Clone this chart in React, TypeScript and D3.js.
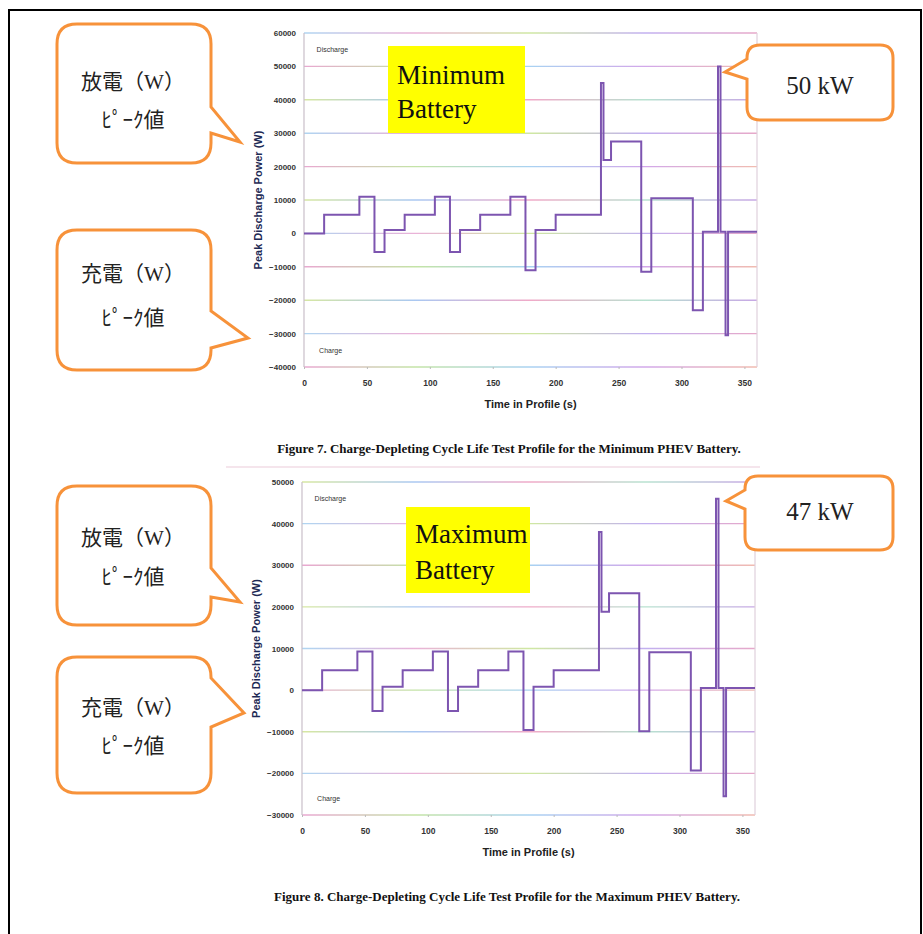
import { useRef, useEffect } from "react";
import * as d3 from "d3";

// step start times (s) of the charge-depleting profile, shared by both batteries
const stepTimes = [0, 16, 44, 56, 64, 80, 104, 116, 124, 140, 164, 176, 184, 200, 236, 238, 244, 268, 276, 309, 317, 329, 331, 335, 337, 360];
const minBatteryPower = [0, 5600, 11000, -5600, 1000, 5600, 11000, -5600, 1000, 5600, 11000, -11000, 1000, 5600, 45000, 22000, 27500, -11500, 10500, -23000, 500, 50000, 500, -30500, 500, 500];
const maxBatteryPower = [0, 4800, 9300, -5000, 800, 4800, 9300, -5000, 800, 4800, 9300, -9600, 800, 4800, 38000, 18800, 23300, -9900, 9100, -19300, 500, 46000, 500, -25500, 500, 500];

const minYTicks = [-40000, -30000, -20000, -10000, 0, 10000, 20000, 30000, 40000, 50000, 60000];
const maxYTicks = [-30000, -20000, -10000, 0, 10000, 20000, 30000, 40000, 50000];
const timeTicks = [0, 50, 100, 150, 200, 250, 300, 350];

const captions = [
  "Figure 7.  Charge-Depleting Cycle Life Test Profile for the Minimum PHEV Battery.",
  "Figure 8.  Charge-Depleting Cycle Life Test Profile for the Maximum PHEV Battery.",
];
const batteryLabels = [["Minimum", "Battery"], ["Maximum", "Battery"]];
const peakLabels = ["50 kW", "47 kW"];
const dischargeLines = ["放電（W）", "ﾋﾟｰｸ値"];
const chargeLines = ["充電（W）", "ﾋﾟｰｸ値"];

const ORANGE = "#f7923a";
const PURPLE = "#7d55b0";
const SANS = "'Liberation Sans', Arial, sans-serif";
const SERIF = "'Liberation Serif', 'Noto Sans CJK JP', serif";

type Sel = d3.Selection<SVGGElement, unknown, null, undefined>;

interface ChartCfg {
  left: number;
  top: number;
  width: number;
  height: number;
  yDomain: [number, number];
  yTicks: number[];
  values: number[];
  caption: string;
  captionY: number;
}

function drawProfile(root: Sel, cfg: ChartCfg) {
  const x = d3.scaleLinear().domain([0, 360]).range([cfg.left, cfg.left + cfg.width]);
  const y = d3.scaleLinear().domain(cfg.yDomain).range([cfg.top + cfg.height, cfg.top]);
  const g = root.append("g");

  // rainbow-ish scanned gridlines
  g.selectAll("line.grid")
    .data(cfg.yTicks)
    .join("line")
    .attr("class", "grid")
    .attr("x1", x(0))
    .attr("x2", x(360))
    .attr("y1", (d) => y(d))
    .attr("y2", (d) => y(d))
    .attr("stroke", (_d, i) => `url(#grid${i % 3})`)
    .attr("stroke-width", 1.4);

  g.append("line")
    .attr("x1", x(0)).attr("x2", x(0))
    .attr("y1", y(cfg.yDomain[1])).attr("y2", y(cfg.yDomain[0]))
    .attr("stroke", "#c9bfc9").attr("stroke-width", 1.2);
  g.append("line")
    .attr("x1", x(360)).attr("x2", x(360))
    .attr("y1", y(cfg.yDomain[1])).attr("y2", y(cfg.yDomain[0]))
    .attr("stroke", "#e0d0dc").attr("stroke-width", 1.2);

  const yAxis = g.append("g")
    .attr("transform", `translate(${x(0)},0)`)
    .call(d3.axisLeft(y).tickValues(cfg.yTicks).tickSize(0).tickPadding(8).tickFormat(d3.format("d")));
  yAxis.select(".domain").remove();
  yAxis.selectAll("text")
    .attr("font-family", SANS).attr("font-size", 8).attr("font-weight", "bold").attr("fill", "#333");

  const xAxis = g.append("g")
    .attr("transform", `translate(0,${y(cfg.yDomain[0])})`)
    .call(d3.axisBottom(x).tickValues(timeTicks).tickSize(2).tickPadding(11));
  xAxis.select(".domain").remove();
  xAxis.selectAll("line").attr("stroke", "#bbb");
  xAxis.selectAll("text")
    .attr("font-family", SANS).attr("font-size", 8.5).attr("font-weight", "bold").attr("fill", "#333");

  g.append("text")
    .attr("x", x(180)).attr("y", y(cfg.yDomain[0]) + 41)
    .attr("text-anchor", "middle")
    .attr("font-family", SANS).attr("font-size", 11).attr("font-weight", "bold").attr("fill", "#222")
    .text("Time in Profile (s)");

  const midY = cfg.top + cfg.height / 2;
  g.append("text")
    .attr("transform", `translate(${cfg.left - 42},${midY}) rotate(-90)`)
    .attr("text-anchor", "middle")
    .attr("font-family", SANS).attr("font-size", 11).attr("font-weight", "bold").attr("fill", "#1e2a55")
    .text("Peak Discharge Power (W)");

  g.append("text")
    .attr("x", x(10)).attr("y", cfg.top + 19)
    .attr("font-family", SANS).attr("font-size", 7).attr("fill", "#333")
    .text("Discharge");
  g.append("text")
    .attr("x", x(12)).attr("y", cfg.top + cfg.height - 14)
    .attr("font-family", SANS).attr("font-size", 7).attr("fill", "#333")
    .text("Charge");

  const line = d3
    .line<number>()
    .x((_d, i) => x(stepTimes[i]))
    .y((d) => y(d))
    .curve(d3.curveStepAfter);

  g.append("path")
    .attr("d", line(cfg.values) || "")
    .attr("fill", "none")
    .attr("stroke", PURPLE)
    .attr("stroke-width", 2);

  g.append("text")
    .attr("x", cfg.left + 205).attr("y", cfg.captionY)
    .attr("text-anchor", "middle")
    .attr("font-family", "'Liberation Serif', serif").attr("font-size", 13).attr("font-weight", "bold").attr("fill", "#111")
    .text(cfg.caption);
}

function bubbleRight(x0: number, y0: number, x1: number, y1: number, r: number, ya: number, yb: number, tx: number, ty: number) {
  return `M${x0 + r},${y0} H${x1 - r} Q${x1},${y0} ${x1},${y0 + r} V${ya} L${tx},${ty} L${x1},${yb} V${y1 - r} Q${x1},${y1} ${x1 - r},${y1} H${x0 + r} Q${x0},${y1} ${x0},${y1 - r} V${y0 + r} Q${x0},${y0} ${x0 + r},${y0} Z`;
}

function bubbleLeft(x0: number, y0: number, x1: number, y1: number, r: number, ya: number, yb: number, tx: number, ty: number) {
  return `M${x0 + r},${y0} H${x1 - r} Q${x1},${y0} ${x1},${y0 + r} V${y1 - r} Q${x1},${y1} ${x1 - r},${y1} H${x0 + r} Q${x0},${y1} ${x0},${y1 - r} V${yb} L${tx},${ty} L${x0},${ya} V${y0 + r} Q${x0},${y0} ${x0 + r},${y0} Z`;
}

function drawBubble(root: Sel, d: string, lines: string[], cx: number, ys: number[], size: number) {
  root.append("path").attr("d", d).attr("fill", "#fff").attr("stroke", ORANGE).attr("stroke-width", 3);
  lines.forEach((t, i) => {
    root.append("text")
      .attr("x", cx).attr("y", ys[i])
      .attr("text-anchor", "middle").attr("dominant-baseline", "central")
      .attr("font-family", SERIF).attr("font-size", size).attr("fill", "#222")
      .text(t);
  });
}

function drawYellow(root: Sel, x0: number, y0: number, w: number, h: number, lines: string[], tx: number, baselines: number[]) {
  root.append("rect").attr("x", x0).attr("y", y0).attr("width", w).attr("height", h).attr("fill", "#ffff00");
  lines.forEach((t, i) => {
    root.append("text")
      .attr("x", tx).attr("y", baselines[i])
      .attr("font-family", "'Liberation Serif', serif").attr("font-size", 27).attr("fill", "#111")
      .text(t);
  });
}

export default function App() {
  const ref = useRef<SVGSVGElement | null>(null);

  useEffect(() => {
    if (!ref.current) return;
    const svg = d3.select(ref.current);
    svg.selectAll("*").remove();

    const defs = svg.append("defs");
    const gradStops = [
      ["#eaa6d2", "#c4e4a6", "#a9d2f2", "#d2a8ea", "#f2bcae"],
      ["#aed6f2", "#eab2d8", "#cfe8a2", "#c2b0f0", "#e8a8c8"],
      ["#d8e8a0", "#aac8f2", "#f0aac8", "#b8e2d0", "#c8a6e6"],
    ];
    gradStops.forEach((stops, k) => {
      const lg = defs.append("linearGradient")
        .attr("id", `grid${k}`)
        .attr("gradientUnits", "userSpaceOnUse")
        .attr("x1", 300).attr("x2", 760).attr("y1", 0).attr("y2", 0);
      stops.forEach((c, i) => lg.append("stop").attr("offset", i / (stops.length - 1)).attr("stop-color", c));
    });

    const root = svg.append("g") as unknown as Sel;
    root.append("rect").attr("width", 923).attr("height", 934).attr("fill", "#fff");
    root.append("rect")
      .attr("x", 9).attr("y", 10).attr("width", 912).attr("height", 940)
      .attr("fill", "none").attr("stroke", "#000").attr("stroke-width", 2);

    drawProfile(root, {
      left: 304, top: 33, width: 453, height: 334,
      yDomain: [-40000, 60000], yTicks: minYTicks, values: minBatteryPower,
      caption: captions[0], captionY: 453,
    });
    root.append("line").attr("x1", 226).attr("x2", 760).attr("y1", 467).attr("y2", 467)
      .attr("stroke", "#f2dce6").attr("stroke-width", 1.5);
    drawProfile(root, {
      left: 302, top: 482, width: 453, height: 333,
      yDomain: [-30000, 50000], yTicks: maxYTicks, values: maxBatteryPower,
      caption: captions[1], captionY: 901,
    });

    drawYellow(root, 388, 46, 137, 87, batteryLabels[0], 397, [84, 118]);
    drawYellow(root, 406, 507, 124, 86, batteryLabels[1], 415, [543, 579]);

    drawBubble(root, bubbleRight(57, 24, 211, 163, 20, 107, 133, 240, 142), dischargeLines, 133, [82, 120], 21);
    drawBubble(root, bubbleRight(57, 230, 211, 370, 20, 311, 348, 248, 338), chargeLines, 133, [274, 318], 21);
    drawBubble(root, bubbleRight(57, 486, 211, 625, 20, 568, 597, 240, 602), dischargeLines, 133, [538, 577], 21);
    drawBubble(root, bubbleRight(57, 657, 211, 793, 20, 678, 727, 244, 713), chargeLines, 133, [708, 746], 21);

    drawBubble(root, bubbleLeft(747, 45, 893, 120, 13, 59, 79, 725, 72), [peakLabels[0]], 820, [85], 25);
    drawBubble(root, bubbleLeft(745, 476, 893, 550, 13, 490, 509, 726, 501), [peakLabels[1]], 820, [511], 25);
  }, []);

  return (
    <svg
      ref={ref}
      width={923}
      height={934}
      style={{ position: "absolute", left: 0, top: 0, display: "block" }}
    />
  );
}
